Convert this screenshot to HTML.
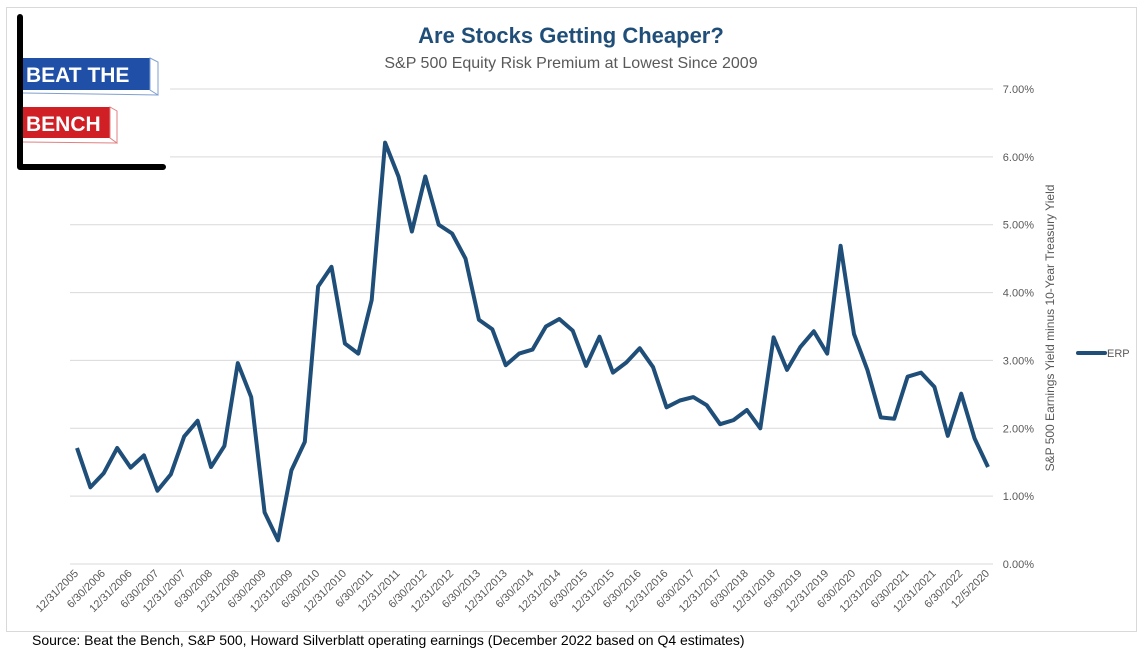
<!DOCTYPE html>
<html><head><meta charset="utf-8">
<style>
body{margin:0;width:1142px;height:659px;background:#fff;overflow:hidden;font-family:"Liberation Sans",Arial,sans-serif;}
</style></head>
<body>
<svg width="1142" height="659" viewBox="0 0 1142 659" xmlns="http://www.w3.org/2000/svg">
<rect x="6.5" y="7.5" width="1130" height="624" fill="#fff" stroke="#d9d9d9"/>
<g id="grid"></g>
<g id="ylabels"></g>
<g id="xlabels"></g>
<path id="line" fill="none" stroke="#1f4e79" stroke-width="4" stroke-linejoin="round"/>
<g>
<rect x="24" y="14" width="146" height="150" fill="#fff"/>
<rect x="23" y="58" width="127" height="32" fill="#1f4fa6"/>
<polygon points="150,58 158,62 158,95 150,90" fill="#fff" stroke="#7f9fd0"/>
<line x1="23" y1="93" x2="158" y2="95" stroke="#7f9fd0"/>
<text x="26" y="82" font-size="21" font-weight="bold" fill="#fff">BEAT THE</text>
<rect x="23" y="107" width="87" height="31" fill="#d02026"/>
<polygon points="110,107 117,111 117,143 110,138" fill="#fff" stroke="#e08080"/>
<line x1="23" y1="142" x2="117" y2="143" stroke="#e08080"/>
<text x="26" y="131" font-size="21" font-weight="bold" fill="#fff">BENCH</text>
<path d="M20,17 V167 H163" fill="none" stroke="#000" stroke-width="6" stroke-linecap="round" stroke-linejoin="round"/>
</g>
<text x="571" y="43" text-anchor="middle" font-size="22" font-weight="bold" fill="#1f4e79">Are Stocks Getting Cheaper?</text>
<text x="571" y="68" text-anchor="middle" font-size="16" fill="#595959">S&amp;P 500 Equity Risk Premium at Lowest Since 2009</text>
<text transform="translate(1054,328) rotate(-90)" text-anchor="middle" font-size="12" fill="#595959">S&amp;P 500 Earnings Yield minus 10-Year Treasury Yield</text>
<g>
<line x1="1078" y1="353" x2="1105" y2="353" stroke="#1f4e79" stroke-width="4" stroke-linecap="round"/>
<text x="1107" y="357" font-size="11" fill="#595959">ERP</text>
</g>
<text x="32" y="645" font-size="14" fill="#000">Source: Beat the Bench, S&amp;P 500, Howard Silverblatt operating earnings (December 2022 based on Q4 estimates)</text>
</svg>
<script>
const erpValues=[1.71,1.13,1.34,1.71,1.42,1.60,1.08,1.32,1.88,2.11,1.43,1.74,2.96,2.46,0.76,0.35,1.38,1.80,4.09,4.38,3.25,3.10,3.89,6.21,5.71,4.90,5.71,5.00,4.87,4.50,3.60,3.46,2.93,3.10,3.16,3.50,3.61,3.44,2.92,3.35,2.82,2.97,3.18,2.90,2.31,2.41,2.46,2.34,2.06,2.12,2.27,2.00,3.34,2.86,3.20,3.43,3.10,4.69,3.39,2.86,2.16,2.14,2.76,2.82,2.61,1.89,2.51,1.85,1.43];
const yTicks=[0,1,2,3,4,5,6,7];
const xLabels=["12/31/2005","6/30/2006","12/31/2006","6/30/2007","12/31/2007","6/30/2008","12/31/2008","6/30/2009","12/31/2009","6/30/2010","12/31/2010","6/30/2011","12/31/2011","6/30/2012","12/31/2012","6/30/2013","12/31/2013","6/30/2014","12/31/2014","6/30/2015","12/31/2015","6/30/2016","12/31/2016","6/30/2017","12/31/2017","6/30/2018","12/31/2018","6/30/2019","12/31/2019","6/30/2020","12/31/2020","6/30/2021","12/31/2021","6/30/2022","12/5/2020"];
const NS='http://www.w3.org/2000/svg';
const x0=77,x1=988,y0=564,y7=89;
const xs=i=>x0+(x1-x0)*i/(erpValues.length-1);
const ys=v=>y0-(y0-y7)*v/7;
const grid=document.getElementById('grid'),yl=document.getElementById('ylabels'),xl=document.getElementById('xlabels');
yTicks.forEach(t=>{
  const l=document.createElementNS(NS,'line');
  
  
  l.setAttribute('x1',70);l.setAttribute('x2',993);
  l.setAttribute('y1',ys(t));l.setAttribute('y2',ys(t));
  l.setAttribute('stroke','#d9d9d9');l.setAttribute('stroke-width','1');
  grid.appendChild(l);
  const tx=document.createElementNS(NS,'text');
  
  
  tx.setAttribute('x',1034);tx.setAttribute('y',ys(t)+4);
  tx.setAttribute('text-anchor','end');tx.setAttribute('font-size','11');tx.setAttribute('fill','#595959');
  tx.textContent=t.toFixed(2)+'%';
  yl.appendChild(tx);
});
xLabels.forEach((s,k)=>{
  const tx=document.createElementNS(NS,'text');
  
  
  const px=xs(Math.min(k*2,erpValues.length-1))+2;
  tx.setAttribute('transform','translate('+px+',574) rotate(-45)');
  tx.setAttribute('text-anchor','end');tx.setAttribute('font-size','11');tx.setAttribute('fill','#595959');
  tx.textContent=s;
  xl.appendChild(tx);
});
document.getElementById('line').setAttribute('d',erpValues.map((v,i)=>(i?'L':'M')+xs(i).toFixed(1)+','+ys(v).toFixed(1)).join(' '));
</script>
</body></html>
